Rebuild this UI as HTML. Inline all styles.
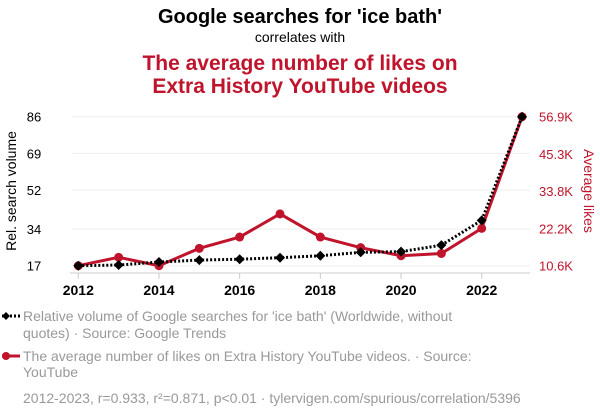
<!DOCTYPE html>
<html><head><meta charset="utf-8"><style>
body{margin:0;background:#fff;font-family:"Liberation Sans",sans-serif}
svg text{font-family:"Liberation Sans",sans-serif}
</style></head><body>
<svg id="c" width="600" height="414" viewBox="0 0 600 414">
<text x="300" y="23" text-anchor="middle" font-size="20" font-weight="bold" fill="#000">Google searches for 'ice bath'</text>
<text x="300" y="42" text-anchor="middle" font-size="14" fill="#000">correlates with</text>
<text x="300" y="70" text-anchor="middle" font-size="21" font-weight="bold" fill="#c0142c">The average number of likes on</text>
<text x="300" y="93" text-anchor="middle" font-size="21" font-weight="bold" fill="#c0142c">Extra History YouTube videos</text>
<g id="grid"></g>
<line x1="70" y1="273" x2="530" y2="273" stroke="#ccc"/>
<g id="ticks"></g>
<text transform="translate(16,191) rotate(-90)" text-anchor="middle" font-size="14" fill="#000">Rel. search volume</text>
<text transform="translate(584,191) rotate(90)" text-anchor="middle" font-size="14" fill="#c0142c">Average likes</text>
<g id="marks"></g>
<g>
<line x1="2" y1="316" x2="20" y2="316" stroke="#000" stroke-width="3" stroke-dasharray="2,2"/>
<path d="M6 312 L10 316 L6 320 L2 316Z" fill="#000"/>
<text x="23" y="321" font-size="14" fill="#999">Relative volume of Google searches for 'ice bath' (Worldwide, without</text>
<text x="23" y="338" font-size="14" fill="#999">quotes) · Source: Google Trends</text>
</g>
<g>
<line x1="2" y1="356" x2="20" y2="356" stroke="#c0142c" stroke-width="3"/>
<circle cx="6" cy="356" r="4" fill="#c0142c"/>
<text x="23" y="361" font-size="14" fill="#999">The average number of likes on Extra History YouTube videos. · Source:</text>
<text x="23" y="377" font-size="14" fill="#999">YouTube</text>
</g>
<text x="23" y="403" font-size="14" fill="#999">2012-2023, r=0.933, r²=0.871, p&lt;0.01 · tylervigen.com/spurious/correlation/5396</text>
</svg>
<script>
const years=[2012,2013,2014,2015,2016,2017,2018,2019,2020,2021,2022,2023];
const searches=[17,17.3,18.7,19.6,20,20.7,21.6,23.2,23.5,26.5,38,86];
const likes=[10.6,13.2,10.6,16.0,19.5,26.7,19.5,16.2,13.7,14.4,22.2,56.9];
const leftTicks=[17,34,52,69,86];
const rightTicks=[10.6,22.2,33.8,45.3,56.9];
const xTicks=[2012,2014,2016,2018,2020,2022];
const NS="http://www.w3.org/2000/svg";
const x=v=>78.3+(v-2012)*40.34;
const yL=v=>265.7-(v-17)*(149/69);
const yR=v=>265.7-(v-10.6)*(149/46.3);
function mk(t,a,p){const e=document.createElementNS(NS,t);for(const k in a)e.setAttribute(k,a[k]);document.getElementById(p).appendChild(e);return e;}
leftTicks.forEach(v=>{
 const g=mk('line',{x1:72,x2:530,y1:yL(v),y2:yL(v),stroke:'#eee'},'grid');
 
 
 const t=mk('text',{x:34,y:yL(v)+5,'font-size':13,'text-anchor':'middle',fill:'#000'},'ticks');t.textContent=v;
 
 
});
rightTicks.forEach(v=>{
 const t=mk('text',{x:539,y:yR(v)+5,'font-size':13,fill:'#c0142c'},'ticks');t.textContent=v.toFixed(1)+'K';
 
 
});
xTicks.forEach(v=>{
 const l=mk('line',{x1:x(v),x2:x(v),y1:273,y2:279,stroke:'#ccc'},'ticks');
 
 
 const t=mk('text',{x:x(v),y:295,'font-size':14,'font-weight':'bold','text-anchor':'middle',fill:'#000'},'ticks');t.textContent=v;
 
 
});
const rl=mk('polyline',{points:years.map((y,i)=>x(y)+','+yR(likes[i])).join(' '),fill:'none',stroke:'#c0142c','stroke-width':3},'marks');


years.forEach((y,i)=>{const c=mk('circle',{cx:x(y),cy:yR(likes[i]),r:4.5,fill:'#c0142c'},'marks');
 
 });
const bl=mk('polyline',{points:years.map((y,i)=>x(y)+','+yL(searches[i])).join(' '),fill:'none',stroke:'#000','stroke-width':3,'stroke-dasharray':'2,2'},'marks');


years.forEach((y,i)=>{const cx=x(y),cy=yL(searches[i]);
 const p=mk('path',{d:`M${cx} ${cy-5}L${cx+5} ${cy}L${cx} ${cy+5}L${cx-5} ${cy}Z`,fill:'#000'},'marks');
 
 });
</script>
</body></html>
